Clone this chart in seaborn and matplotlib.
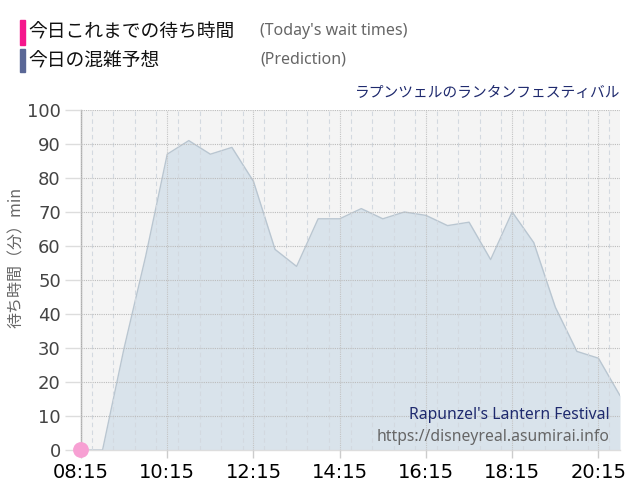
import pandas as pd
import matplotlib.pyplot as plt
import seaborn as sns
from matplotlib.ticker import MultipleLocator

# data (30 min steps)
times = ["08:15", "08:45", "09:15", "09:45", "10:15", "10:45", "11:15", "11:45",
         "12:15", "12:45", "13:15", "13:45", "14:15", "14:45", "15:15", "15:45",
         "16:15", "16:45", "17:15", "17:45", "18:15", "18:45", "19:15", "19:45",
         "20:15", "20:45"]
predicted = [0, 0, 30, 57, 87, 91, 87, 89, 79, 59, 54, 68, 68, 71, 68, 70,
             69, 66, 67, 56, 70, 61, 42, 29, 27, 16]
actual_times = ["08:15"]
actual = [0]
tick_labels = ["08:15", "10:15", "12:15", "14:15", "16:15", "18:15", "20:15"]


def to_hours(s):
    h, m = s.split(":")
    return int(h) + int(m) / 60


pred_df = pd.DataFrame({"hour": [to_hours(t) for t in times], "wait": predicted})
act_df = pd.DataFrame({"hour": [to_hours(t) for t in actual_times], "wait": actual})

sns.set_theme(style="white")
plt.rcParams["font.family"] = ["Noto Sans CJK JP", "DejaVu Sans"]

fig = plt.figure(figsize=(6.4, 5), dpi=100)
ax = fig.add_axes([81 / 640, 50 / 500, 539 / 640, 340 / 500])
ax.set_facecolor("#f4f4f4")

# prediction area
ax.fill_between(pred_df["hour"], pred_df["wait"], 0, color="#d9e3eb", zorder=1, lw=0)
sns.lineplot(data=pred_df, x="hour", y="wait", ax=ax, color="#b9c6d1", lw=1, zorder=2)

# today's actual wait times
sns.scatterplot(data=act_df, x="hour", y="wait", ax=ax, color="#f7a0d3", s=130,
                edgecolor="none", zorder=6, clip_on=False)

ax.set_xlim(to_hours("08:15"), to_hours("20:45"))
ax.set_ylim(0, 100)
ax.set_xticks([to_hours(t) for t in tick_labels])
ax.set_xticklabels(tick_labels, fontsize=14, color="black", family="DejaVu Sans")
ax.xaxis.set_minor_locator(MultipleLocator(0.5))
ax.set_yticks(range(0, 101, 10))
ax.set_yticklabels([str(v) for v in range(0, 101, 10)], fontsize=13, color="#444444",
                   family="DejaVu Sans")

ax.grid(False)
for v in range(10, 101, 10):
    ax.axhline(v, color="#bcbcbc", lw=0.8, ls=(0, (1, 1)), zorder=3)
ax.grid(which="minor", axis="x", color="#d3d9e0", lw=0.8, ls=(0, (4, 3)), zorder=3)
ax.grid(which="major", axis="x", color="#c4c4c4", lw=0.8, ls=(0, (1, 1)), zorder=3)
ax.set_axisbelow(False)

ax.tick_params(axis="y", which="major", length=11.5, width=1, color="#dddddd", pad=3, left=True)
ax.tick_params(axis="x", which="major", length=6, width=1, color="#cccccc", pad=3, bottom=True)
ax.tick_params(axis="x", which="minor", length=0)

for side in ["top", "right"]:
    ax.spines[side].set_visible(False)
ax.spines["left"].set_color("#aaaaaa")
ax.spines["left"].set_linewidth(1)
ax.spines["bottom"].set_color("#dddddd")
ax.spines["bottom"].set_linewidth(1)

ax.set_xlabel("")
ax.set_ylabel("待ち時間（分）min", fontsize=11.5, color="#666666", labelpad=6)
ax.yaxis.set_label_coords(-0.103, 0.565)

# legend header
fig.patches.append(plt.Rectangle((20 / 640, 1 - 45 / 500), 5 / 640, 25 / 500,
                                 transform=fig.transFigure, color="#f5168c", figure=fig))
fig.patches.append(plt.Rectangle((20 / 640, 1 - 72 / 500), 5 / 640, 23 / 500,
                                 transform=fig.transFigure, color="#5a6796", figure=fig))
fig.text(28 / 640, 1 - 32 / 500, "今日これまでの待ち時間", fontsize=13.5, color="#111111", va="center")
fig.text(28 / 640, 1 - 61 / 500, "今日の混雑予想", fontsize=13.5, color="#111111", va="center")
fig.text(260 / 640, 1 - 31 / 500, "(Today's wait times)", fontsize=11.5, color="#666666",
         va="center", family=["Noto Sans", "DejaVu Sans"])
fig.text(260 / 640, 1 - 60 / 500, "(Prediction)", fontsize=11.5, color="#666666",
         va="center", family=["Noto Sans", "DejaVu Sans"])

fig.text(620 / 640, 1 - 93 / 500, "ラプンツェルのランタンフェスティバル", fontsize=10.6,
         color="#1f2a6e", ha="right", va="center")
ax.text(0.98, 0.103, "Rapunzel's Lantern Festival", transform=ax.transAxes, fontsize=11.3,
        color="#1f2a6e", ha="right", va="center", family=["Noto Sans", "DejaVu Sans"])
ax.text(0.98, 0.038, "https://disneyreal.asumirai.info", transform=ax.transAxes, fontsize=11.3,
        color="#666666", ha="right", va="center", family=["Noto Sans", "DejaVu Sans"])

fig.savefig("out.png", dpi=100)
